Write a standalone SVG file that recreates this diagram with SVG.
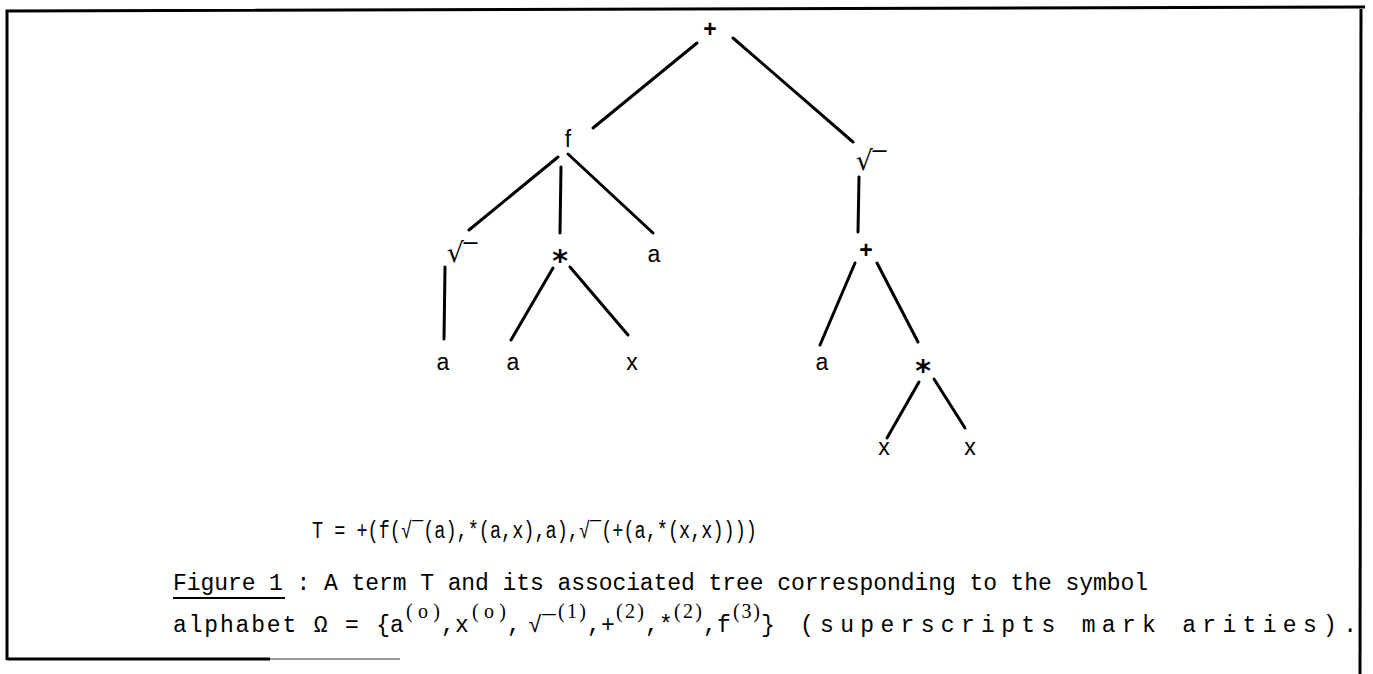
<svg xmlns="http://www.w3.org/2000/svg" width="1373" height="674" viewBox="0 0 1373 674">
<style>
.e{stroke:#000;stroke-width:3;stroke-linecap:round;fill:none}
.n{font-family:"Liberation Sans","DejaVu Sans",sans-serif;font-size:23px;fill:#000;text-anchor:middle}
.r{font-family:"DejaVu Sans","Liberation Sans",sans-serif;font-size:27px;fill:#000;text-anchor:middle}
.st{font-family:"DejaVu Sans","Liberation Sans",sans-serif;font-size:30px;font-weight:bold;fill:#000;text-anchor:middle}
.t{font-family:"Liberation Mono","DejaVu Sans Mono",monospace;font-size:23px;fill:#000}
.c{font-family:"Liberation Mono","DejaVu Sans Mono",monospace;font-size:23px;fill:#000;text-anchor:middle}
.s{font-family:"Liberation Serif","DejaVu Serif",serif;font-size:20px;fill:#000}
.fr{stroke:#000;stroke-width:3;fill:none}
</style>
<rect width="1373" height="674" fill="#fff"/>
<g id="frame">
<path class="fr" d="M7,660 L7,11 L1365,7"/>
<path class="fr" d="M1361,9 L1360,674"/>
<path d="M7,659 L270,659" stroke="#000" stroke-width="3"/>
<path d="M270,659 L400,659" stroke="#999" stroke-width="2"/>
</g>
<g id="connectors">
<line class="e" x1="697" y1="43" x2="593" y2="128"/>
<line class="e" x1="733" y1="38" x2="853" y2="142"/>
<line class="e" x1="558" y1="157" x2="469" y2="230"/>
<line class="e" x1="561" y1="167" x2="560" y2="233"/>
<line class="e" x1="568" y1="154" x2="653" y2="233"/>
<line class="e" x1="445" y1="267" x2="444" y2="339"/>
<line class="e" x1="553" y1="268" x2="511" y2="340"/>
<line class="e" x1="570" y1="267" x2="628" y2="335"/>
<line class="e" x1="859" y1="177" x2="858" y2="232"/>
<line class="e" x1="855" y1="263" x2="820" y2="345"/>
<line class="e" x1="877" y1="263" x2="918" y2="342"/>
<line class="e" x1="919" y1="382" x2="887" y2="438"/>
<line class="e" x1="934" y1="379" x2="965" y2="428"/>
</g>
<g id="n-root"><text class="n" x="710" y="37" font-weight="bold">+</text></g>
<g id="n-f"><text class="n" x="568" y="147">f</text></g>
<g id="n-sqrt-r"><text class="r" x="871" y="170">√‾</text></g>
<g id="n-sqrt-l"><text class="r" x="462" y="262">√‾</text></g>
<g id="n-star1"><text class="st" x="560" y="271">*</text></g>
<g id="n-a1"><text class="n" x="654" y="262">a</text></g>
<g id="n-a2"><text class="n" x="443" y="370">a</text></g>
<g id="n-a3"><text class="n" x="513" y="370">a</text></g>
<g id="n-x1"><text class="n" x="632" y="370">x</text></g>
<g id="n-plus2"><text class="n" x="866" y="258" font-weight="bold">+</text></g>
<g id="n-a4"><text class="n" x="822" y="370">a</text></g>
<g id="n-star2"><text class="st" x="923" y="381">*</text></g>
<g id="n-x2"><text class="n" x="884" y="455">x</text></g>
<g id="n-x3"><text class="n" x="970" y="455">x</text></g>
<g id="caption">
<text class="t" x="312" y="538" textLength="445" lengthAdjust="spacingAndGlyphs">T = +(f(√‾(a),*(a,x),a),√‾(+(a,*(x,x))))</text>
<text class="t" x="173" y="590" textLength="975" lengthAdjust="spacing">Figure 1 : A term T and its associated tree corresponding to the symbol</text>
<line x1="173" y1="598" x2="285" y2="598" stroke="#000" stroke-width="2"/>
<text class="t" x="173" y="632" textLength="217" lengthAdjust="spacing">alphabet Ω = {</text>
<text class="c" x="397" y="632">a</text>
<text class="s" x="406" y="618" textLength="34" lengthAdjust="spacing">(o)</text>
<text class="c" x="448" y="632">,</text>
<text class="c" x="462" y="632">x</text>
<text class="s" x="472" y="618" textLength="34" lengthAdjust="spacing">(o)</text>
<text class="c" x="514" y="632">,</text>
<text class="c" x="542" y="632">√‾</text>
<text class="s" x="558" y="618" textLength="28" lengthAdjust="spacing">(1)</text>
<text class="c" x="594" y="632">,</text>
<text class="c" x="608" y="632">+</text>
<text class="s" x="616" y="618" textLength="28" lengthAdjust="spacing">(2)</text>
<text class="c" x="652" y="632">,</text>
<text class="c" x="666" y="632">*</text>
<text class="s" x="674" y="618" textLength="28" lengthAdjust="spacing">(2)</text>
<text class="c" x="710" y="632">,</text>
<text class="c" x="724" y="632">f</text>
<text class="s" x="733" y="618" textLength="27" lengthAdjust="spacing">(3)</text>
<text class="c" x="768" y="632">}</text>
<text class="t" x="800" y="632" textLength="557" lengthAdjust="spacing">(superscripts mark arities).</text>
</g>
</svg>
